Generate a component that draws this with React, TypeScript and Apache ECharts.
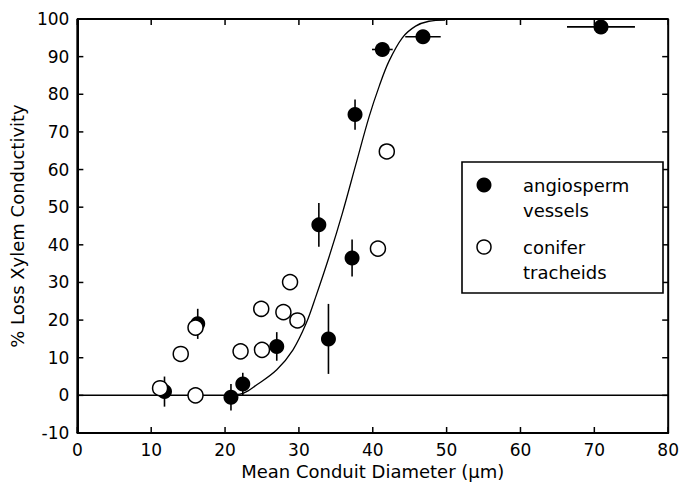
import React, { useEffect, useRef } from "react";
import * as echarts from "echarts";

// ---- data ----
const xTickMin = 0;
const xTickMax = 80;
const xTickStep = 10;
const yTickMin = -10;
const yTickMax = 100;
const yTickStep = 10;
const xTicks = [0, 10, 20, 30, 40, 50, 60, 70, 80];
const yTicks = [-10, 0, 10, 20, 30, 40, 50, 60, 70, 80, 90, 100];

const angioX = [11.8, 16.3, 20.8, 22.4, 27.0, 32.7, 34.0, 37.2, 37.6, 41.3, 46.8, 70.9];
const angioY = [1.0, 19.0, -0.5, 3.0, 13.0, 45.3, 15.0, 36.5, 74.6, 91.9, 95.3, 97.9];
const angioXErr = [0, 0, 0, 0, 0, 0, 0, 0, 0, 1.4, 2.4, 4.6];
const angioYErr = [4.0, 4.0, 3.5, 3.0, 3.8, 5.8, 9.3, 4.9, 4.0, 0, 0, 0];

const coniferX = [11.2, 14.0, 16.0, 16.0, 22.1, 24.9, 25.0, 27.9, 28.8, 29.8, 40.7, 41.9];
const coniferY = [1.9, 11.0, 18.0, 0.0, 11.7, 23.0, 12.1, 22.1, 30.1, 19.9, 39.0, 64.8];

const curveX = [20, 22.5, 24.3, 27.0, 29.2, 31.0, 32.3, 34.1, 35.9, 37.7, 39.5, 40.9, 42.2, 44.0, 45.8, 47.6, 49.8];
const curveY = [0, 0.6, 2.8, 6.8, 12.1, 19.2, 26.3, 36.9, 48.5, 61.3, 74.0, 82.3, 88.8, 95.0, 98.1, 99.4, 99.7];

const zeroLineX = [0, 80];
const zeroLineY = [0, 0];

const frameX = [0, 0, 80, 80, 0];
const frameY = [-10, 100, 100, -10, -10];

const legendLabels = ["angiosperm", "vessels", "conifer", "tracheids"];
const xAxisTitle = "Mean Conduit Diameter (\u00b5m)";
const yAxisTitle = "% Loss Xylem Conductivity";

const FONT = "DejaVu Sans";

export default function App() {
  const ref = useRef<HTMLDivElement>(null);

  useEffect(() => {
    document.body.style.margin = "0";
    if (!ref.current) return;
    const chart = echarts.init(ref.current, undefined, { renderer: "svg" });

    const angioData = angioX.map((x, i) => [x, angioY[i], angioXErr[i], angioYErr[i]]);
    const coniferData = coniferX.map((x, i) => [x, coniferY[i]]);
    const curveData = curveX.map((x, i) => [x, curveY[i]]);
    const zeroData = zeroLineX.map((x, i) => [x, zeroLineY[i]]);
    const frameData = frameX.map((x, i) => [x, frameY[i]]);

    const option: any = {
      animation: false,
      backgroundColor: "#fff",
      grid: { left: 76, right: 11, top: 19, bottom: 56, containLabel: false },
      xAxis: {
        type: "value",
        min: xTickMin,
        max: xTickMax,
        interval: xTickStep,
        position: "bottom",
        axisLine: { show: true, onZero: false, lineStyle: { color: "#000", width: 2 } },
        axisTick: { show: false },
        splitLine: { show: false },
        axisLabel: { color: "#000", fontSize: 17, fontFamily: FONT, margin: 8 },
        name: xAxisTitle,
        nameLocation: "middle",
        nameGap: 21,
        nameTextStyle: { color: "#000", fontSize: 18, fontFamily: FONT },
      },
      yAxis: {
        type: "value",
        min: yTickMin,
        max: yTickMax,
        interval: yTickStep,
        position: "left",
        axisLine: { show: true, onZero: false, lineStyle: { color: "#000", width: 2 } },
        axisTick: { show: false },
        splitLine: { show: false },
        axisLabel: { color: "#000", fontSize: 17, fontFamily: FONT, margin: 8 },
        name: yAxisTitle,
        nameLocation: "middle",
        nameGap: 47,
        nameTextStyle: { color: "#000", fontSize: 18, fontFamily: FONT },
      },
      series: [
        {
          // plot frame, drawn like the curve
          type: "line",
          data: frameData,
          symbol: "none",
          lineStyle: { color: "#000", width: 2 },
          z: 1,
        },
        {
          // inward ticks on all four sides
          type: "custom",
          data: [[xTickMin, yTickMin]],
          z: 1,
          renderItem: (params: any, api: any) => {
            const st = { stroke: "#000", lineWidth: 1.5, fill: null };
            const children: any[] = [];
            xTicks.forEach((v) => {
              const t = api.coord([v, yTickMax]);
              const b = api.coord([v, yTickMin]);
              children.push({ type: "line", shape: { x1: t[0], y1: t[1], x2: t[0], y2: t[1] + 6 }, style: st });
              children.push({ type: "line", shape: { x1: b[0], y1: b[1], x2: b[0], y2: b[1] - 6 }, style: st });
            });
            yTicks.forEach((v) => {
              const l = api.coord([xTickMin, v]);
              const r = api.coord([xTickMax, v]);
              children.push({ type: "line", shape: { x1: l[0], y1: l[1], x2: l[0] + 6, y2: l[1] }, style: st });
              children.push({ type: "line", shape: { x1: r[0], y1: r[1], x2: r[0] - 6, y2: r[1] }, style: st });
            });
            return { type: "group", children };
          },
        },
        {
          type: "line",
          data: zeroData,
          symbol: "none",
          lineStyle: { color: "#000", width: 1.5 },
          z: 1,
        },
        {
          type: "line",
          data: curveData,
          symbol: "none",
          smooth: 0.35,
          lineStyle: { color: "#000", width: 1.3 },
          z: 2,
        },
        {
          type: "custom",
          data: angioData,
          z: 3,
          renderItem: (params: any, api: any) => {
            const x = api.value(0);
            const y = api.value(1);
            const xe = api.value(2);
            const ye = api.value(3);
            const children: any[] = [];
            const style = { stroke: "#000", lineWidth: 1.6 };
            if (ye > 0) {
              const a = api.coord([x, y - ye]);
              const b = api.coord([x, y + ye]);
              children.push({ type: "line", shape: { x1: a[0], y1: a[1], x2: b[0], y2: b[1] }, style });
            }
            if (xe > 0) {
              const a = api.coord([x - xe, y]);
              const b = api.coord([x + xe, y]);
              children.push({ type: "line", shape: { x1: a[0], y1: a[1], x2: b[0], y2: b[1] }, style });
            }
            return { type: "group", children };
          },
        },
        {
          type: "scatter",
          name: "angiosperm vessels",
          data: angioData.map((d) => [d[0], d[1]]),
          symbol: "circle",
          symbolSize: 15,
          itemStyle: { color: "#000", opacity: 1 },
          z: 4,
        },
        {
          type: "scatter",
          name: "conifer tracheids",
          data: coniferData,
          symbol: "circle",
          symbolSize: 15,
          itemStyle: { color: "#fff", borderColor: "#000", borderWidth: 1.5, opacity: 1 },
          z: 5,
        },
      ],
      graphic: [
        {
          type: "rect",
          shape: { x: 462, y: 162, width: 201, height: 131 },
          style: { fill: "#fff", stroke: "#000", lineWidth: 1.6 },
          z: 10,
        },
        { type: "circle", shape: { cx: 484, cy: 185, r: 7.5 }, style: { fill: "#000" }, z: 11 },
        {
          type: "circle",
          shape: { cx: 484, cy: 247, r: 7 },
          style: { fill: "#fff", stroke: "#000", lineWidth: 1.5 },
          z: 11,
        },
        ...legendLabels.map((t, i) => ({
          type: "text",
          x: 523,
          y: [185, 210, 247, 272][i],
          style: {
            text: t,
            fill: "#000",
            fontSize: 18,
            fontFamily: FONT,
            verticalAlign: "middle",
          },
          z: 11,
        })),
      ],
    };

    chart.setOption(option);
    return () => chart.dispose();
  }, []);

  return <div ref={ref} style={{ width: 682, height: 489 }} />;
}
